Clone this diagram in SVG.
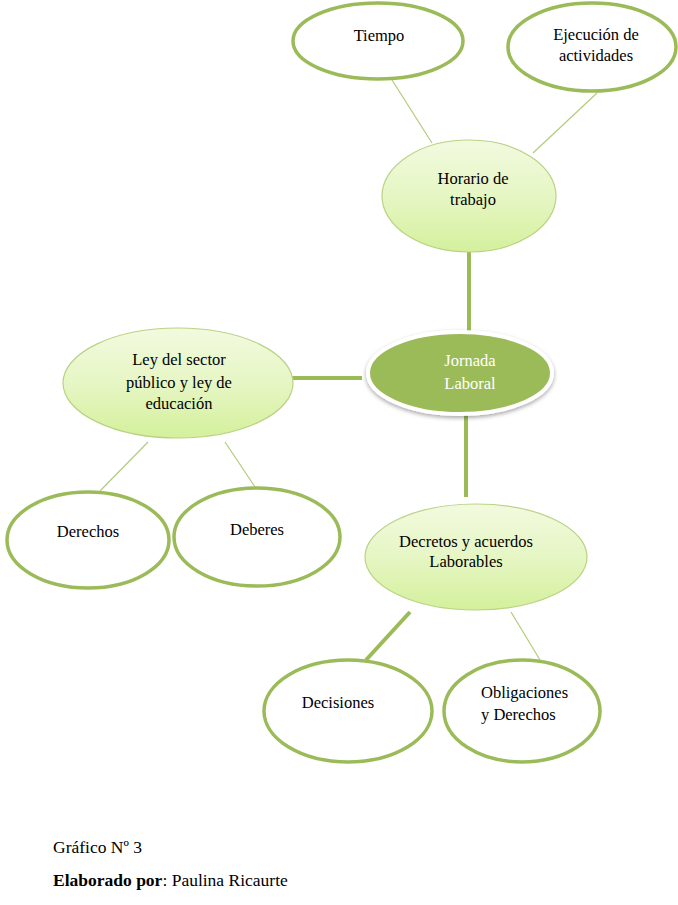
<svg xmlns="http://www.w3.org/2000/svg" width="678" height="905" viewBox="0 0 678 905">
<defs>
<linearGradient id="lg" x1="0" y1="0" x2="0" y2="1">
<stop offset="0" stop-color="#f2fadf"/>
<stop offset="0.5" stop-color="#e6f6c4"/>
<stop offset="1" stop-color="#d4f09c"/>
</linearGradient>
<filter id="sh" x="-20%" y="-20%" width="140%" height="150%">
<feGaussianBlur in="SourceAlpha" stdDeviation="2"/>
<feOffset dx="0" dy="2" result="b"/>
<feFlood flood-color="#000" flood-opacity="0.35"/>
<feComposite in2="b" operator="in"/>
<feMerge><feMergeNode/><feMergeNode in="SourceGraphic"/></feMerge>
</filter>
</defs>
<style>
text{font-family:"Liberation Serif","Times New Roman","DejaVu Serif",serif;font-size:16.5px;fill:#000;text-anchor:middle}
.out{fill:#fff;stroke:#9bbb59;stroke-width:3.5}
.lt{fill:url(#lg);stroke:#b9d383;stroke-width:1.2}
.thin{stroke:#b3cb7d;stroke-width:1.2;fill:none}
.thick{stroke:#9bbb59;stroke-width:4;fill:none}
.wt{fill:#fff}
.cap{text-anchor:start}
.big{font-size:17.5px}
</style>
<g id="connectors">
<line class="thin" x1="392" y1="80" x2="432" y2="143"/>
<line class="thin" x1="597" y1="93" x2="533" y2="153"/>
<line class="thick" x1="469" y1="252" x2="469" y2="334"/>
<line class="thick" x1="290" y1="378" x2="362" y2="378"/>
<line class="thick" x1="466" y1="414" x2="466" y2="497"/>
<line class="thin" x1="100" y1="491" x2="148" y2="442"/>
<line class="thin" x1="255" y1="487" x2="225" y2="442"/>
<line class="thick" x1="366" y1="660" x2="410" y2="612"/>
<line class="thin" x1="540" y1="660" x2="511" y2="612"/>
</g>
<g id="tiempo">
<ellipse class="out" cx="378" cy="41" rx="85" ry="38"/>
<text x="379" y="41">Tiempo</text>
</g>
<g id="ejecucion">
<ellipse class="out" cx="592" cy="47" rx="84" ry="44"/>
<text x="596" y="40">Ejecución de</text>
<text x="596" y="61">actividades</text>
</g>
<g id="horario">
<ellipse class="lt" cx="469" cy="196" rx="87" ry="56"/>
<text x="473" y="184">Horario de</text>
<text x="473" y="205">trabajo</text>
</g>
<g id="jornada">
<ellipse cx="460" cy="373" rx="92" ry="41" fill="#9bbb59" stroke="#fff" stroke-width="4" filter="url(#sh)"/>
<text class="wt" x="470" y="366">Jornada</text>
<text class="wt" x="470" y="389">Laboral</text>
</g>
<g id="ley">
<ellipse class="lt" cx="178" cy="383" rx="115" ry="55"/>
<text x="179" y="365">Ley del sector</text>
<text x="179" y="388">público y ley de</text>
<text x="179" y="409">educación</text>
</g>
<g id="derechos">
<ellipse class="out" cx="88" cy="540" rx="81" ry="48"/>
<text x="88" y="537">Derechos</text>
</g>
<g id="deberes">
<ellipse class="out" cx="257" cy="537" rx="83" ry="49"/>
<text x="257" y="535">Deberes</text>
</g>
<g id="decretos">
<ellipse class="lt" cx="476" cy="557" rx="111" ry="53"/>
<text x="466" y="547">Decretos y acuerdos</text>
<text x="466" y="567">Laborables</text>
</g>
<g id="decisiones">
<ellipse class="out" cx="348" cy="711" rx="84" ry="51"/>
<text x="338" y="708">Decisiones</text>
</g>
<g id="obligaciones">
<ellipse class="out" cx="522" cy="711" rx="78" ry="51"/>
<text class="cap" x="481" y="698">Obligaciones</text>
<text class="cap" x="481" y="720">y Derechos</text>
</g>
<g id="caption">
<text class="cap big" x="53" y="853">Gráfico Nº 3</text>
<text class="cap big" x="53" y="886"><tspan font-weight="bold">Elaborado por</tspan>: Paulina Ricaurte</text>
</g>
</svg>
